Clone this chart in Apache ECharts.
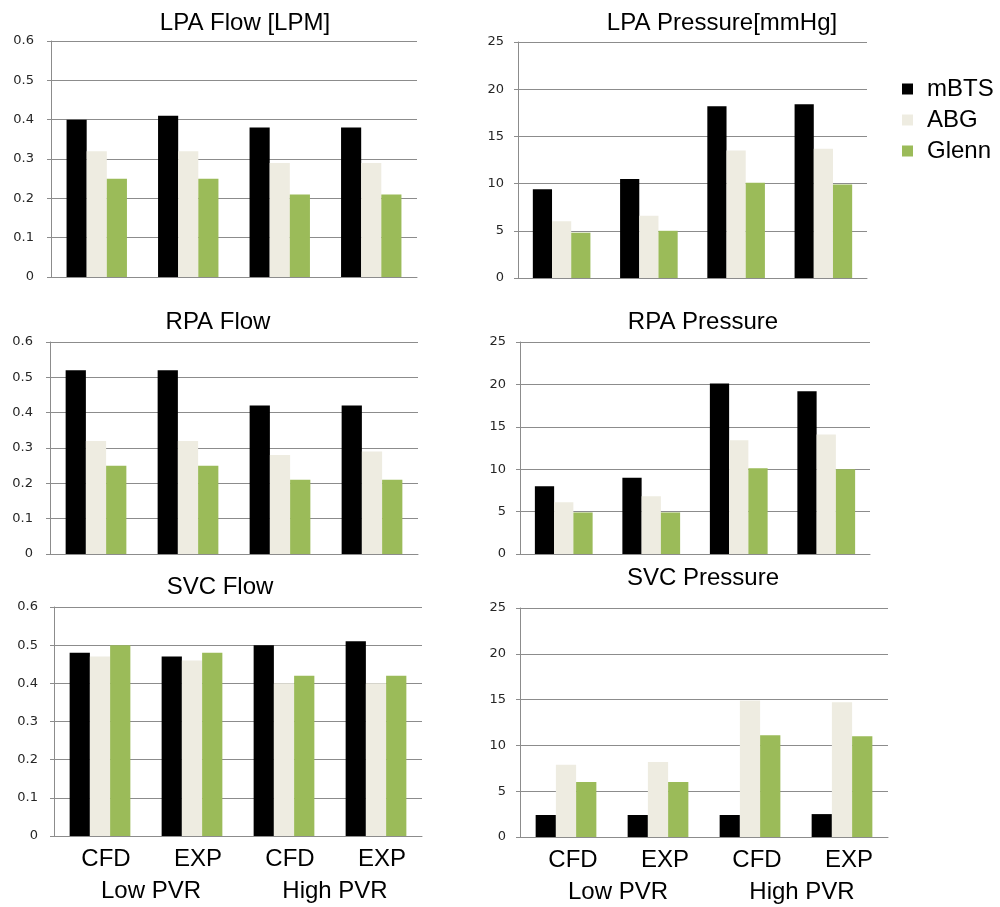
<!DOCTYPE html>
<html>
<head>
<meta charset="utf-8">
<script src="https://cdn.jsdelivr.net/npm/echarts@6/dist/echarts.min.js"></script>
<style>
html,body{margin:0;padding:0;background:#fff;}
#chart{width:1000px;height:907px;}
</style>
</head>
<body>
<div id="chart"></div>
<script>
// ---- data ----
const categories = ['CFD', 'EXP', 'CFD', 'EXP'];
const groupLabels = ['Low PVR', 'High PVR'];
const seriesNames = ['mBTS', 'ABG', 'Glenn'];
const panelTitles = ['LPA Flow [LPM]', 'LPA Pressure[mmHg]', 'RPA Flow', 'RPA Pressure', 'SVC Flow', 'SVC Pressure'];

const lpaFlow_mBTS  = [0.40, 0.41, 0.38, 0.38];
const lpaFlow_ABG   = [0.32, 0.32, 0.29, 0.29];
const lpaFlow_Glenn = [0.25, 0.25, 0.21, 0.21];

const lpaPres_mBTS  = [9.4, 10.5, 18.2, 18.4];
const lpaPres_ABG   = [6.0, 6.6, 13.5, 13.7];
const lpaPres_Glenn = [4.8, 5.0, 10.1, 9.9];

const rpaFlow_mBTS  = [0.52, 0.52, 0.42, 0.42];
const rpaFlow_ABG   = [0.32, 0.32, 0.28, 0.29];
const rpaFlow_Glenn = [0.25, 0.25, 0.21, 0.21];

const rpaPres_mBTS  = [8.0, 9.0, 20.1, 19.2];
const rpaPres_ABG   = [6.1, 6.8, 13.4, 14.1];
const rpaPres_Glenn = [4.9, 4.9, 10.1, 10.0];

const svcFlow_mBTS  = [0.48, 0.47, 0.50, 0.51];
const svcFlow_ABG   = [0.47, 0.46, 0.40, 0.40];
const svcFlow_Glenn = [0.50, 0.48, 0.42, 0.42];

const svcPres_mBTS  = [2.4, 2.4, 2.4, 2.5];
const svcPres_ABG   = [7.9, 8.2, 14.9, 14.7];
const svcPres_Glenn = [6.0, 6.0, 11.1, 11.0];

const flowTicks = { min: 0, max: 0.6, interval: 0.1 };
const presTicks = { min: 0, max: 25, interval: 5 };

const panelData = [
  [lpaFlow_mBTS, lpaFlow_ABG, lpaFlow_Glenn],
  [lpaPres_mBTS, lpaPres_ABG, lpaPres_Glenn],
  [rpaFlow_mBTS, rpaFlow_ABG, rpaFlow_Glenn],
  [rpaPres_mBTS, rpaPres_ABG, rpaPres_Glenn],
  [svcFlow_mBTS, svcFlow_ABG, svcFlow_Glenn],
  [svcPres_mBTS, svcPres_ABG, svcPres_Glenn]
];
const panelScale = [flowTicks, presTicks, flowTicks, presTicks, flowTicks, presTicks];

// ---- layout / style ----
const colors = ['#000000', '#EEECE1', '#9BBB59'];
const gridBoxes = [
  { left: 51,  top: 41,  width: 366, height: 236 },
  { left: 518, top: 42,  width: 349, height: 236 },
  { left: 50,  top: 342, width: 368, height: 212 },
  { left: 520, top: 342, width: 350, height: 212 },
  { left: 54,  top: 607, width: 368, height: 229 },
  { left: 520, top: 608, width: 368, height: 229 }
];
const titlePos = [[245, 23], [722, 23], [218, 322], [703, 322], [220, 587], [703, 578]];
const yMargins = [17, 14, 17, 14, 16, 14];
const lineColor = '#8c8c8c';
const titleFont = '"Liberation Sans", Arial, sans-serif';
const tickFont = '"DejaVu Sans", Verdana, sans-serif';

const grids = gridBoxes.map(b => Object.assign({ containLabel: false }, b));
const titles = panelTitles.map((t, i) => ({
  text: t,
  left: titlePos[i][0],
  top: titlePos[i][1],
  textAlign: 'center',
  textVerticalAlign: 'middle',
  padding: 0,
  textStyle: { fontFamily: titleFont, fontSize: 24, fontWeight: 'normal', color: '#000' }
}));

const xAxes = [];
const yAxes = [];
const series = [];
for (let i = 0; i < 6; i++) {
  const showLabels = i >= 4;
  xAxes.push({
    type: 'category',
    gridIndex: i,
    data: categories,
    axisLine: { show: true, lineStyle: { color: lineColor, width: 1 } },
    axisTick: { show: false },
    splitLine: { show: false },
    axisLabel: {
      show: showLabels,
      margin: 11,
      padding: [0, 0, 0, i === 4 ? 12 : 14],
      fontFamily: titleFont, fontSize: 24, color: '#000'
    }
  });
  yAxes.push({
    type: 'value',
    gridIndex: i,
    min: panelScale[i].min,
    max: panelScale[i].max,
    interval: panelScale[i].interval,
    axisLine: { show: true, lineStyle: { color: lineColor, width: 1 } },
    axisTick: { show: true, length: 4, lineStyle: { color: lineColor } },
    splitLine: { show: true, lineStyle: { color: lineColor, width: 1 } },
    axisLabel: { margin: yMargins[i], padding: [4, 0, 0, 0], fontFamily: tickFont, fontSize: 13, color: '#262626' }
  });
  for (let s = 0; s < 3; s++) {
    series.push({
      name: seriesNames[s],
      type: 'bar',
      xAxisIndex: i,
      yAxisIndex: i,
      data: panelData[i][s],
      itemStyle: { color: colors[s] },
      barGap: '0%',
      barCategoryGap: '34%',
      animation: false
    });
  }
}
// second-level category labels (Low PVR / High PVR)
[4, 5].forEach(i => {
  xAxes.push({
    type: 'category',
    gridIndex: i,
    position: 'bottom',
    data: groupLabels,
    axisLine: { show: false },
    axisTick: { show: false },
    splitLine: { show: false },
    axisLabel: {
      margin: 43,
      padding: [0, 0, 0, i === 4 ? 10 : 12],
      fontFamily: titleFont, fontSize: 24, color: '#000'
    }
  });
});

const option = {
  backgroundColor: '#fff',
  animation: false,
  title: titles,
  legend: {
    data: seriesNames,
    orient: 'vertical',
    left: 902,
    top: 77,
    padding: 0,
    itemWidth: 11,
    itemHeight: 11,
    itemGap: 7,
    icon: 'rect',
    textStyle: { fontFamily: titleFont, fontSize: 24, color: '#000', padding: [0, 0, 0, 9] }
  },
  grid: grids,
  xAxis: xAxes,
  yAxis: yAxes,
  series: series
};

const chart = echarts.init(document.getElementById('chart'), null, { renderer: 'canvas' });
chart.setOption(option);
</script>
</body>
</html>
